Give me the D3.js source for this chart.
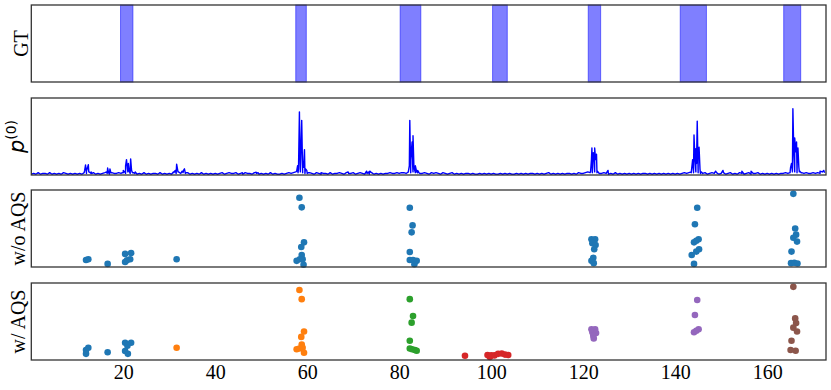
<!DOCTYPE HTML>
<html>
<head>
<meta charset="utf-8">
<title>AQS</title>
<script src="https://d3js.org/d3.v7.min.js"></script>
<style>
	body { margin: 0; background: #fff; }
	.frame { fill: none; stroke: #333; stroke-width: 1.3; }
	.ylab { font-family: "Liberation Serif", "DejaVu Serif", serif; font-size: 20px; fill: #000; }
	.tick text { font-family: "Liberation Serif", "DejaVu Serif", serif; font-size: 20px; fill: #000; }
</style>
</head>
<body>
<svg width="831" height="390"></svg>
<script>
	// ground truth spans (seconds)
	var gtStart = [19.4, 57.5, 80.2, 100.3, 121.1, 141.1, 163.6];
	var gtEnd   = [22.1, 59.8, 84.7, 103.5, 123.8, 146.8, 167.3];

	// p(0) baseline, one value every 0.5 s, in hundredths
	var pBase = [
		1,2,1,3,1,2,2,1,3,1,2,1,2,1,3,2,1,2,1,2,
		1,2,1,3,2,4,2,3,1,2,1,2,3,2,1,3,2,2,3,2,
		3,2,4,2,3,2,1,2,1,3,1,2,1,2,2,1,3,1,2,1,
		2,1,3,2,4,2,3,2,3,1,2,1,2,1,3,1,2,1,2,1,
		2,1,2,3,1,2,3,2,2,3,1,2,1,3,2,2,1,3,2,1,
		2,1,2,1,3,1,2,1,1,2,1,2,3,2,3,4,3,4,3,2,
		2,3,2,1,3,2,1,2,2,1,3,1,2,2,3,2,1,3,2,2,
		3,1,2,3,2,1,2,1,3,1,2,1,2,1,2,2,3,2,2,3,
		2,3,3,2,4,3,4,3,3,2,2,3,2,1,3,2,3,2,1,3,
		2,1,2,3,1,2,1,2,1,2,2,1,2,1,1,2,1,2,1,2,
		1,2,1,1,2,1,2,1,2,1,1,2,1,2,1,2,1,2,2,1,
		2,1,2,1,2,3,1,2,1,2,1,2,1,2,2,1,2,1,3,2,
		2,3,4,3,3,4,3,2,2,3,2,1,2,1,3,1,2,1,2,1,
		2,1,2,1,2,1,2,2,1,2,1,2,1,2,1,2,1,2,1,2,
		1,2,1,2,3,2,3,4,3,4,3,2,2,3,1,2,3,2,3,1,
		2,3,1,2,3,1,2,1,3,2,1,2,3,1,2,2,3,1,2,1,
		2,1,2,1,2,1,2,2,3,2,3,4,4,3,4,3,2,3,2,2,
		3,2,3,2,4,3
	];

	// p(0) peaks
	var peakX = [11.6,11.8,12.0,12.2,12.4,12.6,13.0,13.2,
		16.4,16.6,16.8,17.1,17.3,
		19.8,20.0,20.3,20.5,20.7,20.9,21.1,21.3,21.6,21.8,22.2,22.6,
		30.9,31.3,31.6,31.9,32.8,33.1,33.3,33.6,
		45.9,48.9,49.3,
		57.7,57.9,58.1,58.3,58.45,58.6,58.8,59.0,59.2,59.4,59.6,59.9,60.2,
		63.0,68.9,72.9,73.3,73.6,
		82.0,82.2,82.3,82.5,82.8,82.9,83.0,83.2,83.5,83.8,84.0,84.3,
		121.6,121.8,121.9,122.05,122.2,122.35,122.5,122.7,122.9,123.1,125.4,
		143.5,143.8,144.0,144.1,144.3,144.5,144.65,144.8,145.0,145.2,145.4,145.7,
		148.8,150.4,154.5,156.5,
		165.0,165.1,165.3,165.6,165.8,166.0,166.2,166.4,166.55,166.7,166.9,167.1,167.4,
		171.5,172.0,172.3];
	var peakY = [.06,.13,.05,.09,.135,.04,.04,.02,
		.04,.09,.03,.08,.03,
		.03,.06,.04,.12,.2,.08,.15,.05,.21,.06,.03,.04,
		.04,.06,.14,.04,.05,.06,.08,.03,
		.03,.035,.03,
		.05,.12,.08,.82,.15,.25,.71,.18,.1,.33,.08,.06,.03,
		.03,.04,.05,.04,.05,
		.05,.12,.71,.2,.43,.15,.51,.1,.12,.04,.06,.03,
		.04,.2,.35,.2,.29,.18,.35,.2,.27,.05,.06,
		.03,.2,.1,.52,.2,.34,.15,.7,.2,.36,.08,.04,
		.05,.06,.05,.05,
		.04,.1,.15,.86,.3,.48,.3,.43,.2,.35,.1,.05,.03,
		.05,.04,.06];

	// detected segments without AQS
	var woX = [11.9,12.4,16.6,20.4,21.7,20.4,21.5,20.8,31.6,
		58.3,58.8,59.3,58.7,58.8,57.7,58.4,59.0,59.2,
		82.3,82.9,82.7,82.3,82.3,83.0,83.8,83.3,
		121.8,122.6,122.0,122.7,122.4,122.2,121.8,122.3,
		144.8,144.3,145.1,144.1,144.6,145.2,144.6,143.6,144.1,
		165.7,166.1,166.3,165.7,166.5,165.3,165.2,165.9,166.6];
	var woY = [.09,.10,.04,.17,.18,.065,.10,.087,.10,
		.90,.775,.32,.26,.156,.08,.10,.10,.03,
		.77,.54,.45,.195,.09,.09,.08,.035,
		.36,.36,.31,.285,.23,.12,.08,.05,
		.77,.555,.36,.32,.34,.23,.20,.155,.04,
		.95,.50,.42,.38,.33,.20,.05,.055,.045];

	// detected segments with AQS, and their cluster
	var wX = [11.9,12.4,11.9,16.6,20.4,21.7,20.9,20.4,21.0,
		31.6,
		58.3,58.8,59.3,58.7,58.8,57.7,58.3,59.0,59.3,
		82.3,83.0,82.7,82.3,82.3,83.4,82.8,83.8,
		94.3,99.2,99.7,100.0,100.7,101.5,102.3,103.0,103.7,
		121.8,122.6,122.0,122.8,122.2,122.3,
		144.8,144.3,145.1,144.1,144.6,
		165.7,166.1,166.3,165.7,166.5,165.3,165.1,166.2];
	var wY = [.13,.16,.08,.10,.225,.225,.185,.117,.08,
		.16,
		.91,.79,.37,.30,.20,.14,.15,.16,.095,
		.79,.57,.485,.25,.15,.13,.14,.12,
		.055,.065,.04,.06,.06,.08,.085,.07,.065,
		.40,.40,.36,.35,.315,.28,
		.78,.585,.40,.36,.38,
		.95,.54,.48,.42,.37,.25,.13,.12];
	var wCluster = [0,0,0,0,0,0,0,0,0,
		1,
		1,1,1,1,1,1,1,1,1,
		2,2,2,2,2,2,2,2,
		3,3,3,3,3,3,3,3,3,
		4,4,4,4,4,4,
		4,4,4,4,4,
		5,5,5,5,5,5,5,5];

	var xTicks = [20, 40, 60, 80, 100, 120, 140, 160];
	var clusterColors = ["#1f77b4", "#ff7f0e", "#2ca02c", "#d62728", "#9467bd", "#8c564b"];

	var svg = d3.select("svg");
	var left = 31.3, right = 826;

	// panel boxes (top, bottom)
	var panels = [
		{top: 5, bottom: 82, label: "GT"},
		{top: 98, bottom: 175, label: "p"},
		{top: 190, bottom: 267, label: "w/o AQS"},
		{top: 283, bottom: 360, label: "w/ AQS"}
	];

	var x = d3.scaleLinear().domain([0, 172.8]).range([left, right]);

	function yScale(p, lo, hi) {
		return d3.scaleLinear().domain([lo, hi]).range([p.bottom, p.top]);
	}

	// GT spans
	var g0 = svg.append("g");
	g0.selectAll("rect")
		.data(gtStart)
		.enter()
		.append("rect")
		.attr("x", function(d) { return x(d); })
		.attr("width", function(d, i) { return x(gtEnd[i]) - x(d); })
		.attr("y", panels[0].top)
		.attr("height", panels[0].bottom - panels[0].top)
		.attr("fill", "#0000ff")
		.attr("fill-opacity", 0.5)
		.attr("stroke", "#0000ff")
		.attr("stroke-opacity", 0.5)
		.attr("stroke-width", 1);

	// p(0) line
	var pts = pBase.map(function(v, i) { return [i * 0.5, v / 100]; });
	peakX.forEach(function(v, i) { pts.push([v, peakY[i]]); });
	pts.sort(function(a, b) { return a[0] - b[0]; });
	var y1 = d3.scaleLinear().domain([0, 1]).range([175, 98]);
	svg.append("path")
		.datum(pts)
		.attr("fill", "none")
		.attr("stroke", "#0000ff")
		.attr("stroke-width", 1.4)
		.attr("stroke-linejoin", "round")
		.attr("d", d3.line().x(function(d) { return x(d[0]); }).y(function(d) { return y1(d[1]); }));

	// scatter without AQS
	var y2 = yScale(panels[2], 0, 1);
	svg.append("g")
		.selectAll("circle")
		.data(woX)
		.enter()
		.append("circle")
		.attr("cx", function(d) { return x(d); })
		.attr("cy", function(d, i) { return y2(woY[i]); })
		.attr("r", 3.3)
		.attr("fill", "#1f77b4");

	// scatter with AQS
	var y3 = yScale(panels[3], 0, 1);
	svg.append("g")
		.selectAll("circle")
		.data(wX)
		.enter()
		.append("circle")
		.attr("cx", function(d) { return x(d); })
		.attr("cy", function(d, i) { return y3(wY[i]); })
		.attr("r", 3.3)
		.attr("fill", function(d, i) { return clusterColors[wCluster[i]]; });

	// frames
	svg.append("g")
		.selectAll("rect")
		.data(panels)
		.enter()
		.append("rect")
		.attr("class", "frame")
		.attr("x", left)
		.attr("y", function(d) { return d.top; })
		.attr("width", right - left)
		.attr("height", function(d) { return d.bottom - d.top; });

	// x axis at the bottom
	var axis = svg.append("g")
		.attr("transform", "translate(0," + panels[3].bottom + ")")
		.call(d3.axisBottom(x).tickValues(xTicks).tickSize(0).tickPadding(5));
	axis.select(".domain").remove();

	// y labels
	var labX = [28, 24, 25, 25];
	panels.forEach(function(p, i) {
		var cy = (p.top + p.bottom) / 2;
		var t = svg.append("text")
			.attr("class", "ylab")
			.attr("text-anchor", "middle")
			.attr("transform", "translate(" + labX[i] + "," + cy + ") rotate(-90)");
		if (i == 1) {
			t.style("font-family", "'DejaVu Sans', sans-serif").style("font-size", "21px");
			t.append("tspan").attr("font-style", "italic").text("p");
			t.append("tspan").attr("dy", -8).style("font-size", "14px").text("(0)");
		} else {
			t.text(p.label);
		}
	});
</script>
</body>
</html>
